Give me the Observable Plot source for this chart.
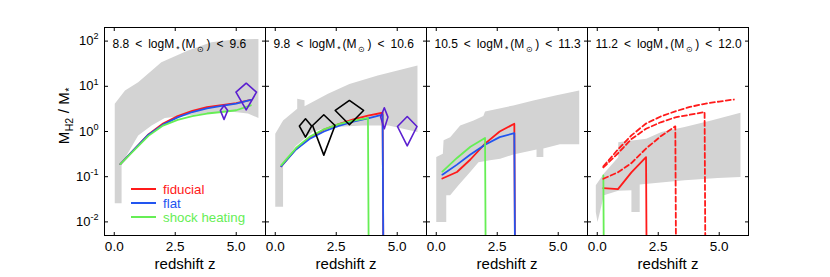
<!DOCTYPE html>
<html><head><meta charset="utf-8">
<script src="https://cdn.jsdelivr.net/npm/d3@7"></script>
<script src="https://cdn.jsdelivr.net/npm/@observablehq/plot@0.6"></script>
<style>
body{margin:0;background:#fff;font-family:"Liberation Sans",Arial,sans-serif;}
#wrap{position:relative;width:830px;height:277px;}
#legend{position:absolute;left:131px;top:182px;font-size:13.3px;}
#legend .row{display:flex;align-items:center;height:14px;}
#legend .sw{width:25px;height:2px;margin-right:7px;}
</style></head><body><div id="wrap"></div>
<script>
// ---------------- data ----------------
const panelTitles = [
  "8.8 < logM_{*}(M_{⊙}) < 9.6",
  "9.8 < logM_{*}(M_{⊙}) < 10.6",
  "10.5 < logM_{*}(M_{⊙}) < 11.3",
  "11.2 < logM_{*}(M_{⊙}) < 12.0"
];
const yLabel = "M_{H2} / M_{*}";
const xLabel = "redshift z";
const xTicks = [0, 2.5, 5.0];
const yTicks = [1e-2, 1e-1, 1, 10, 100];
const modelNames = ["fiducial", "flat", "shock heating"];
const modelColors = ["#ff1a1a", "#2255f0", "#66ee55"];
const obsColors = ["#000000", "#5b1fd0"];

// redshift grid of the model outputs
const modelZ = [0.25, 0.85, 1.4, 2.0, 2.6, 3.2, 3.8, 4.4, 5.0, 5.6];
// M_H2/M_* per panel; 0 = drops to zero (falls off the log axis), null = no output
const fiducial = [
  [0.19, 0.42, 0.86, 1.5, 2.2, 2.85, 3.45, 3.85, 4.25, 5.0],
  [0.17, 0.41, 0.72, 1.1, 1.45, 1.85, 2.25, 2.6, 0, null],
  [0.091, 0.127, 0.24, 0.54, 1.0, 1.48, 0, null, null, null],
  [0.056, 0.053, 0.125, 0.27, 0, null, null, null, null, null]
];
const flat = [
  [0.19, 0.42, 0.85, 1.42, 2.05, 2.7, 3.25, 3.7, 4.15, 5.0],
  [0.17, 0.40, 0.68, 1.0, 1.33, 1.65, 1.95, 2.35, 0, null],
  [0.111, 0.185, 0.31, 0.51, 0.75, 0.92, 0, null, null, null],
  [null, null, null, null, null, null, null, null, null, null]
];
const shockHeating = [
  [0.19, 0.40, 0.80, 1.35, 1.8, 2.2, 2.5, 2.7, 2.95, 3.8],
  [0.18, 0.43, 0.76, 1.12, 1.45, 1.75, 1.98, 0, null, null],
  [0.13, 0.26, 0.46, 0.72, 0, null, null, null, null, null],
  [0.107, 0, null, null, null, null, null, null, null, null]
];
// extra fiducial variants (dashed), last panel only
const fiducialDashed4 = [
  [0.17, 0.40, 0.82, 1.5, 2.15, 2.8, 3.5, 4.1, 4.6, 5.1],
  [0.16, 0.33, 0.68, 1.15, 1.6, 2.05, 2.35, 2.7, 0, null],
  [0.09, 0.125, 0.2, 0.42, 0.78, 1.3, 0, null, null, null]
];

// grey observational range: upper and lower edges [z, ratio]
const grayUpper = [
  [[0.02,4.1],[0.44,8.1],[0.98,12.3],[1.93,34],[3.02,62],[3.98,94],[4.93,108],[5.91,112]],
  [[0,0.89],[0.32,1.76],[0.9,3.2],[0.9,5.3],[1.2,4.9],[1.2,3.6],[2.16,6.8],[3.04,11.3],[4.2,17.3],[5.83,28.8]],
  [[0,0.273],[0.27,0.32],[0.3,0.64],[0.57,0.75],[0.98,1.36],[1.53,1.76],[1.93,2.19],[2.0,2.78],[3.16,3.77],[3.98,4.86],[4.93,6.3],[5.86,8.1]],
  [[-0.06,0.065],[0.27,0.117],[0.86,0.27],[0.86,0.58],[2.01,0.69],[2.63,0.97],[3.58,1.25],[4.67,1.76],[5.87,2.6]]
];
const grayLower = [
  [[0.02,0.026],[0.3,0.026],[0.3,0.19],[0.98,0.82],[1.53,1.36],[2.07,2.0],[3.02,2.25],[4.39,2.75],[4.93,2.7],[5.48,2.5],[5.91,2.0]],
  [[0,0.0215],[0.32,0.0215],[0.32,0.195],[0.84,0.48],[1.52,0.97],[1.86,1.11],[2.47,1.25],[3.56,1.36],[4.65,1.36],[5.83,0.97]],
  [[0,0.01],[0.41,0.01],[0.41,0.039],[0.57,0.039],[0.91,0.065],[1.39,0.127],[1.73,0.21],[2.2,0.23],[2.62,0.25],[3.16,0.31],[4.11,0.40],[4.11,0.273],[4.39,0.273],[4.39,0.42],[5.07,0.52],[5.86,0.52]],
  [[-0.06,0.0166],[0.01,0.01],[0.11,0.0166],[0.27,0.039],[0.86,0.049],[1.4,0.05],[1.4,0.0166],[1.74,0.0166],[1.74,0.067],[3.58,0.083],[4.94,0.094],[5.87,0.098]]
];

// individual observations drawn as diamonds (z range x ratio range)
const obsPanel = [1, 1, 1, 0, 0, 1, 1];
const obsGroup = [0, 0, 0, 1, 1, 1, 1];
const obsZ     = [1.24, 1.99, 3.04, 4.50, 5.41, 4.47, 5.41];
const obsZErr  = [0.25, 0.46, 0.58, 0.15, 0.42, 0.15, 0.40];
const obsRatio = [1.32, 1.36, 2.92, 2.92, 7.4, 2.08, 1.29];
const obsLo    = [0.75, 0.30, 1.41, 1.85, 3.0, 1.15, 0.48];
const obsHi    = [1.91, 2.35, 4.86, 3.77, 11.7, 3.35, 2.15];

// ---------------- build tables ----------------
const Y_MIN = 0.005, Y_MAX = 200;
const OFF_AXIS = 1e-60; // stand-in for zero on the log axis
function seriesRows(values, panel, key) {
  const rows = [];
  values.forEach((v, i) => {
    if (v == null) return;
    rows.push({panel, key, z: modelZ[i], v: v > 0 ? v : OFF_AXIS});
  });
  return rows;
}
const modelSets = [fiducial, flat, shockHeating];
const modelRows = modelSets.map((set, m) => set.flatMap((vals, p) => seriesRows(vals, p, m + "-" + p)));
const dashedRows = fiducialDashed4.flatMap((vals, j) => seriesRows(vals, 3, "d" + j));
const grayRows = grayUpper.flatMap((up, p) =>
  up.concat(grayLower[p].slice().reverse()).map(([z, v]) => ({panel: p, z, v})));
const obsRows = obsZ.flatMap((z, i) => {
  const pts = [[z - obsZErr[i], obsRatio[i]], [z, obsHi[i]], [z + obsZErr[i], obsRatio[i]], [z, obsLo[i]], [z - obsZErr[i], obsRatio[i]]];
  return pts.map(([x, v]) => ({panel: obsPanel[i], id: i, group: obsGroup[i], z: x, v}));
});
const panelRows = panelTitles.map((t, i) => ({panel: i, title: t.replace(/ < /g, "\u2002<\u2002")}));

const fmtPow = d => "10^{" + Math.round(Math.log10(d)) + "}";

const chart = Plot.plot({
  width: 830, height: 277,
  marginLeft: 103, marginRight: 82, marginTop: 27, marginBottom: 42,
  style: {fontFamily: "'Liberation Sans', Arial, sans-serif", fontSize: "13px", background: "white", color: "black"},
  fx: {domain: [0, 1, 2, 3], padding: 0, axis: null},
  x: {domain: [-0.4, 6.2]},
  y: {type: "log", domain: [Y_MIN, Y_MAX]},
  marks: [
    Plot.line(grayRows, {fx: "panel", x: "z", y: "v", z: "panel", fill: "#d3d3d3", stroke: "none"}),
    ...modelRows.map((rows, m) => Plot.line(rows, {fx: "panel", x: "z", y: "v", z: "key", stroke: modelColors[m], strokeWidth: 1.8, clip: true})),
    Plot.line(dashedRows, {fx: "panel", x: "z", y: "v", z: "key", stroke: modelColors[0], strokeWidth: 1.8, strokeDasharray: "5,3", clip: true}),
    ...obsColors.map((c, g) => Plot.line(obsRows.filter(d => d.group === g), {fx: "panel", x: "z", y: "v", z: "id", stroke: c, strokeWidth: 1.6})),
    Plot.frame({stroke: "black", strokeWidth: 1}),
    Plot.axisY({ticks: yTicks, tickSize: 0, tickPadding: 6, tickFormat: fmtPow, label: null, fontSize: 13}),
    Plot.axisY({anchor: "left", ticks: yTicks, tickSize: 4, dx: 4, tickFormat: () => "", label: null, facetAnchor: null}),
    Plot.axisY({anchor: "right", ticks: yTicks, tickSize: 4, dx: -4, tickFormat: () => "", label: null, facetAnchor: null}),
    Plot.axisX({ticks: xTicks, tickSize: 0, tickPadding: 6, tickFormat: d3.format(".1f"), label: null, fontSize: 13.5}),
    Plot.axisX({anchor: "bottom", ticks: xTicks, tickSize: 3, dy: -3, tickFormat: () => "", label: null, facetAnchor: null}),
    Plot.axisX({anchor: "top", ticks: xTicks, tickSize: 3, dy: 3, tickFormat: () => "", label: null, facetAnchor: null}),
    Plot.text(panelRows, {fx: "panel", text: "title", frameAnchor: "top-left", dx: 8, dy: 17, textAnchor: "start", lineAnchor: "middle", fontSize: 12}),
    Plot.text(panelRows, {fx: "panel", text: () => xLabel, frameAnchor: "bottom", dy: 29, lineAnchor: "middle", fontSize: 15})
  ]
});

// y-axis title, placed left of the first panel
const svgNS = "http://www.w3.org/2000/svg";
const yl = document.createElementNS(svgNS, "text");
yl.setAttribute("transform", "translate(69,116) rotate(-90)");
yl.setAttribute("text-anchor", "middle");
yl.setAttribute("font-size", "15");
yl.setAttribute("fill", "black");
yl.textContent = yLabel;
chart.appendChild(yl);

// sub/superscripts as tspans
function richText(el, str, size, pad) {
  const re = /([_^])\{([^}]*)\}/g;
  const parts = [];
  let last = 0, m;
  while ((m = re.exec(str))) {
    if (m.index > last) parts.push({t: str.slice(last, m.index), s: 0});
    parts.push({t: m[2], s: m[1] === "_" ? 1 : -1});
    last = re.lastIndex;
  }
  if (last < str.length) parts.push({t: str.slice(last), s: 0});
  el.textContent = "";
  let cur = 0, prevSub = false;
  for (const p of parts) {
    const ts = document.createElementNS(svgNS, "tspan");
    const target = p.s === 1 ? 0.28 * size : p.s === -1 ? -0.45 * size : 0;
    ts.setAttribute("dy", (target - cur).toFixed(2));
    if (pad && (p.s || prevSub)) ts.setAttribute("dx", pad);
    cur = target;
    prevSub = !!p.s;
    if (p.s) ts.setAttribute("font-size", (size * 0.7).toFixed(1));
    ts.textContent = p.t;
    el.appendChild(ts);
  }
}
chart.querySelectorAll("text").forEach(t => {
  const s = t.textContent;
  if (!/[_^]\{/.test(s)) return;
  if (s.startsWith("10^")) richText(t, s, 13, 0);
  else if (s.startsWith("M_")) richText(t, s, 15, 0.5);
  else richText(t, s, 12, 2);
});

const wrap = document.getElementById("wrap");
wrap.appendChild(chart);
const legend = document.createElement("div");
legend.id = "legend";
modelNames.forEach((n, i) => {
  const row = document.createElement("div");
  row.className = "row";
  row.innerHTML = `<span class="sw" style="background:${modelColors[i]}"></span><span style="color:${modelColors[i]}">${n}</span>`;
  legend.appendChild(row);
});
wrap.appendChild(legend);
</script></body></html>
